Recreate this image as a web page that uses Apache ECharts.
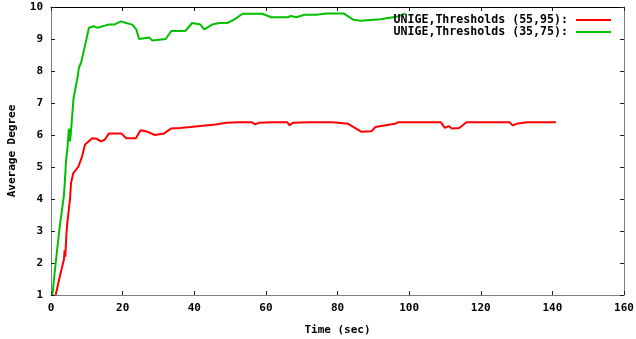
<!DOCTYPE html>
<html>
<head>
<meta charset="utf-8">
<script src="https://cdn.jsdelivr.net/npm/echarts@6/dist/echarts.min.js"></script>
<style>
  html, body { margin: 0; padding: 0; background: #fff; }
  #chart { width: 636px; height: 339px; }
</style>
</head>
<body>
<div id="chart"></div>
<script>
// series names
const seriesNames = ["UNIGE,Thresholds (55,95):", "UNIGE,Thresholds (35,75):"];

// Thresholds (55,95) - red
const redTime = [1.3, 2.5, 3.6, 3.8, 4.0, 4.3, 4.6, 5.0, 5.3, 5.6, 6.2, 6.9, 7.6, 8.6, 9.5, 10.5, 11.5, 12.8, 13.9, 15, 16.2, 19.6, 21, 23.7, 25, 27, 29, 31.6, 33.5, 36, 39, 43, 46, 49, 52.6, 56, 57, 58, 62, 66, 66.6, 67.5, 72, 78.6, 83, 86.7, 89.5, 90.6, 93, 96, 97, 108.8, 110, 111, 112, 114, 116, 128, 129, 130, 133, 141];
const redDeg = [1.0, 1.6, 2.1, 2.4, 2.2, 2.9, 3.3, 3.7, 4.0, 4.5, 4.8, 4.9, 5.0, 5.3, 5.7, 5.8, 5.9, 5.88, 5.8, 5.85, 6.05, 6.05, 5.9, 5.9, 6.15, 6.1, 6.0, 6.05, 6.2, 6.22, 6.25, 6.3, 6.33, 6.38, 6.4, 6.4, 6.33, 6.38, 6.4, 6.4, 6.3, 6.38, 6.4, 6.4, 6.35, 6.1, 6.12, 6.25, 6.3, 6.35, 6.4, 6.4, 6.22, 6.28, 6.2, 6.22, 6.4, 6.4, 6.3, 6.35, 6.4, 6.4];

// Thresholds (35,75) - green
const greenTime = [0.4, 1.3, 2.5, 3.6, 3.9, 4.2, 4.6, 5.0, 5.3, 5.5, 6.3, 7.4, 7.8, 8.5, 9.5, 10.6, 12, 13, 16, 17.6, 19.6, 21, 22.7, 23.8, 24.6, 27.4, 28.3, 32, 33.6, 37.5, 39.4, 41.7, 42.8, 45, 47, 49.2, 51, 53.5, 59, 61.5, 66, 67, 68.5, 70.8, 74, 77, 81.7, 84.5, 86.4, 92, 96.8, 99];
const greenDeg = [1.0, 2.0, 3.2, 4.1, 4.6, 5.2, 5.6, 6.2, 5.8, 6.0, 7.15, 7.8, 8.1, 8.3, 8.8, 9.35, 9.4, 9.35, 9.45, 9.45, 9.55, 9.5, 9.45, 9.3, 9.0, 9.05, 8.95, 9.0, 9.25, 9.25, 9.5, 9.45, 9.3, 9.45, 9.5, 9.5, 9.6, 9.79, 9.79, 9.68, 9.68, 9.72, 9.68, 9.76, 9.76, 9.8, 9.8, 9.6, 9.57, 9.62, 9.7, 9.8];

// axis ranges
const xMin = 0, xMax = 160, xStep = 20;
const yMin = 1, yMax = 10, yStep = 1;

const pair = (xs, ys) => xs.map((x, i) => [x, ys[i]]);

const font = "DejaVu Sans Mono";
const axisColor = "#808080";

const baseX = {
  type: "value",
  min: xMin,
  max: xMax,
  interval: xStep,
  splitLine: { show: false },
  axisLine: { show: true, onZero: false, lineStyle: { color: axisColor, width: 1 } },
  axisTick: { show: true, inside: true, length: 4, lineStyle: { color: "#202020" } },
};
const baseY = {
  type: "value",
  min: yMin,
  max: yMax,
  interval: yStep,
  splitLine: { show: false },
  axisLine: { show: true, onZero: false, lineStyle: { color: axisColor, width: 1 } },
  axisTick: { show: true, inside: true, length: 4, lineStyle: { color: "#202020" } },
};

const option = {
  animation: false,
  backgroundColor: "#ffffff",
  grid: { left: 51, right: 12, top: 7, bottom: 44, outerBoundsMode: "none" },
  legend: {
    orient: "vertical",
    right: 25,
    top: 14,
    padding: 0,
    align: "right",
    itemWidth: 35,
    itemHeight: 2,
    itemGap: 0,
    icon: "rect",
    textStyle: { fontFamily: font, fontWeight: "bold", fontSize: 11.6, color: "#000", padding: [0, 3, 0, 0] },
    data: seriesNames,
  },
  xAxis: [
    Object.assign({}, baseX, {
      position: "bottom",
      name: "Time (sec)",
      nameLocation: "middle",
      nameGap: 30,
      nameTextStyle: { fontFamily: font, fontWeight: "bold", fontSize: 11, color: "#000" },
      axisLabel: { fontFamily: font, fontWeight: "bold", fontSize: 11, color: "#000", margin: 8 },
    }),
    Object.assign({}, baseX, {
      position: "top",
      axisLabel: { show: false },
      axisLine: { show: true, onZero: false, lineStyle: { color: "#000", width: 1 } },
    }),
  ],
  yAxis: [
    Object.assign({}, baseY, {
      position: "left",
      name: "Average Degree",
      nameLocation: "middle",
      nameGap: 33,
      nameTextStyle: { fontFamily: font, fontWeight: "bold", fontSize: 11, color: "#000" },
      axisLabel: { fontFamily: font, fontWeight: "bold", fontSize: 11, color: "#000", margin: 8 },
    }),
    Object.assign({}, baseY, { position: "right", axisLabel: { show: false } }),
  ],
  series: [
    {
      name: seriesNames[0],
      type: "line",
      xAxisIndex: 0,
      yAxisIndex: 0,
      showSymbol: false,
      symbol: "none",
      data: pair(redTime, redDeg),
      lineStyle: { color: "#ff0000", width: 2 },
      itemStyle: { color: "#ff0000" },
    },
    {
      name: seriesNames[1],
      type: "line",
      xAxisIndex: 0,
      yAxisIndex: 0,
      showSymbol: false,
      symbol: "none",
      data: pair(greenTime, greenDeg),
      lineStyle: { color: "#00c000", width: 2 },
      itemStyle: { color: "#00c000" },
    },
  ],
};

const chart = echarts.init(document.getElementById("chart"));
chart.setOption(option);
</script>
</body>
</html>
